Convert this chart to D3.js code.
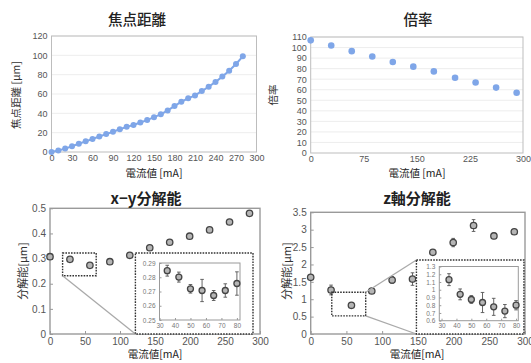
<!DOCTYPE html>
<html>
<head>
<meta charset="utf-8">
<script src="https://cdn.jsdelivr.net/npm/d3@7"></script>
<style>
  html, body { margin: 0; padding: 0; background: #fff; }
  svg { display: block; font-family: "Noto Sans CJK JP", "Noto Sans", sans-serif; }
</style>
</head>
<body>
<svg id="chart" width="531" height="363"></svg>
<script>
// ---- data ----
// 焦点距離 (top left)
const focusCurrent = [0, 10, 20, 30, 40, 50, 60, 70, 80, 90, 100, 110, 120, 130, 140,
  150, 160, 170, 180, 190, 200, 210, 220, 230, 240, 250, 260, 270, 280]
const focusLength = [0, 1.5, 3.5, 6, 8.5, 11, 13.5, 16, 18.5, 21, 23.5, 26, 28, 30.5, 33,
  36, 39, 43, 47.5, 52, 55.5, 58.5, 63, 67.5, 72.5, 78, 84, 91, 99]
const focusXTicks = [0, 30, 60, 90, 120, 150, 180, 210, 240, 270, 300]
const focusYTicks = [0, 20, 40, 60, 80, 100, 120]

// 倍率 (top right)
const magCurrent = [0, 29, 58, 87, 116, 145, 174, 204, 233, 262, 291]
const magValue = [106.8, 102, 96.6, 91.5, 86.3, 81.9, 77.4, 71.3, 66.8, 62, 57.2]
const magXTicks = [0, 75, 150, 225, 300]
const magYTicks = [0, 10, 20, 30, 40, 50, 60, 70, 80, 90, 100, 110]

// 分解能 shared current values
const resCurrent = [0, 28.5, 57, 85.5, 114, 142.5, 171, 199.5, 228, 256.5, 285]
const resXTicks = [0, 50, 100, 150, 200, 250, 300]
const insetCurrent = [35, 42.5, 50, 57.5, 65, 72.5, 80]
const insetXTicks = [30, 40, 50, 60, 70, 80]

// x-y分解能 (bottom left)
const xyValue = [0.3075, 0.297, 0.273, 0.2876, 0.313, 0.343, 0.365, 0.389, 0.414, 0.4455, 0.48]
const xyError = [0.003, 0.003, 0.003, 0.003, 0.004, 0.004, 0.004, 0.003, 0.005, 0.005, 0.01]
const xyYTicks = [0, 0.1, 0.2, 0.3, 0.4, 0.5]
const xyInsetValue = [0.2846, 0.2801, 0.2719, 0.2707, 0.2672, 0.2707, 0.2756]
const xyInsetError = [0.0038, 0.0035, 0.003, 0.0078, 0.0035, 0.0047, 0.0082]
const xyInsetYTicks = [0.25, 0.26, 0.27, 0.28, 0.29]

// z軸分解能 (bottom right)
const zValue = [1.63, 1.266, 0.825, 1.237, 1.553, 1.58, 2.35, 2.63, 3.12, 2.82, 2.94]
const zError = [0.03, 0.14, 0.07, 0.04, 0.1, 0.18, 0.03, 0.12, 0.17, 0.08, 0.06]
const zYTicks = [0, 0.5, 1, 1.5, 2, 2.5, 3, 3.5]
const zInsetValue = [1.13, 0.94, 0.874, 0.835, 0.779, 0.724, 0.8]
const zInsetError = [0.077, 0.07, 0.05, 0.13, 0.11, 0.085, 0.06]
const zInsetYTicks = [0.6, 0.7, 0.8, 0.9, 1, 1.1, 1.2, 1.3]

const svg = d3.select('#chart')
const blue = '#7fa6e8'

const fmtTrim = (d) => String(+d.toFixed(2))

// generic frame + axes for one panel
const drawPanel = (opts) => {
  const { x, y, xTicks, yTicks, frame, grid, tickSize, fontSize, fmtY, labelGap } = opts
  const g = svg.append('g')
  const [x0, x1] = x.range()
  const [y0, y1] = y.range()
  if (grid) {
    g.selectAll('.grid')
      .data(yTicks.slice(1))
      .join('line')
      .attr('x1', x0).attr('x2', x1)
      .attr('y1', (d) => y(d)).attr('y2', (d) => y(d))
      .attr('stroke', '#e8e8e8')
      .attr('stroke-width', 0.8)
  }
  g.append('rect')
    .attr('x', x0).attr('y', y1)
    .attr('width', x1 - x0).attr('height', y0 - y1)
    .attr('fill', 'none')
    .attr('stroke', frame.color)
    .attr('stroke-width', frame.width)

  const ax = g.append('g')
    .attr('transform', `translate(0,${y0})`)
    .call(d3.axisBottom(x).tickValues(xTicks).tickSize(tickSize).tickFormat(d3.format('d')))
  const ay = g.append('g')
    .attr('transform', `translate(${x0},0)`)
    .call(d3.axisLeft(y).tickValues(yTicks).tickSize(tickSize).tickFormat(fmtY || fmtTrim))
  ;[ax, ay].forEach((a) => {
    a.select('.domain').remove()
    a.selectAll('.tick line').attr('stroke', frame.color)
    a.selectAll('.tick text').attr('fill', '#555').attr('font-size', fontSize)
  })
  // inward ticks
  ax.selectAll('.tick line').attr('y2', -tickSize)
  ay.selectAll('.tick line').attr('x2', tickSize)
  ax.selectAll('.tick text').attr('y', labelGap)
  ay.selectAll('.tick text').attr('x', -4)
  return g
}

const title = (text, cx, cy, size, weight) => {
  svg.append('text')
    .attr('x', cx).attr('y', cy)
    .attr('text-anchor', 'middle')
    .attr('dominant-baseline', 'middle')
    .attr('font-size', size)
    .attr('font-weight', weight)
    .attr('fill', '#222')
    .text(text)
}

const yTitle = (text, cx, cy, size) => {
  svg.append('text')
    .attr('transform', `translate(${cx},${cy}) rotate(-90)`)
    .attr('text-anchor', 'middle')
    .attr('dominant-baseline', 'middle')
    .attr('font-size', size)
    .attr('fill', '#333')
    .text(text)
}

const errorPoints = (g, x, y, xs, vs, es, r) => {
  const pts = g.append('g')
  xs.forEach((xv, i) => {
    const px = x(xv)
    const top = y(vs[i] + es[i])
    const bot = y(vs[i] - es[i])
    pts.append('line')
      .attr('x1', px).attr('x2', px).attr('y1', top).attr('y2', bot)
      .attr('stroke', '#555').attr('stroke-width', 0.9)
    ;[top, bot].forEach((cy) => {
      pts.append('line')
        .attr('x1', px - 1.8).attr('x2', px + 1.8).attr('y1', cy).attr('y2', cy)
        .attr('stroke', '#555').attr('stroke-width', 0.9)
    })
    pts.append('circle')
      .attr('cx', px).attr('cy', y(vs[i])).attr('r', r)
      .attr('fill', '#b5b5b5')
      .attr('stroke', '#444')
      .attr('stroke-width', 1.3)
  })
}

const dashedBox = (x0, y0, x1, y1) => {
  svg.append('rect')
    .attr('x', Math.min(x0, x1)).attr('y', Math.min(y0, y1))
    .attr('width', Math.abs(x1 - x0)).attr('height', Math.abs(y1 - y0))
    .attr('fill', 'none')
    .attr('stroke', '#333')
    .attr('stroke-width', 1.4)
    .attr('stroke-dasharray', '1.6,1.2')
}

const connector = (x0, y0, x1, y1) => {
  svg.append('line')
    .attr('x1', x0).attr('y1', y0).attr('x2', x1).attr('y2', y1)
    .attr('stroke', '#aaa').attr('stroke-width', 1.3)
}

// ---------- 焦点距離 ----------
{
  const x = d3.scaleLinear().domain([0, 300]).range([51.5, 256.5])
  const y = d3.scaleLinear().domain([0, 120]).range([152, 36])
  drawPanel({ x, y, xTicks: focusXTicks, yTicks: focusYTicks, grid: true, labelGap: 3,
    frame: { color: '#bdbdbd', width: 1 }, tickSize: 0, fontSize: 9, fmtY: d3.format('d') })
  const line = d3.line().x((d, i) => x(focusCurrent[i])).y((d) => y(d))
  svg.append('path')
    .datum(focusLength)
    .attr('fill', 'none')
    .attr('stroke', blue)
    .attr('stroke-width', 2)
    .attr('d', line)
  svg.append('g').selectAll('circle')
    .data(focusLength)
    .join('circle')
    .attr('cx', (d, i) => x(focusCurrent[i]))
    .attr('cy', (d) => y(d))
    .attr('r', 3)
    .attr('fill', blue)
  title('焦点距離', 137, 21, 14.5, 500)
  yTitle('焦点距離 [μm]', 17, 95, 10.5)
  title('電流値 [mA]', 154, 174, 10.5, 400)
}

// ---------- 倍率 ----------
{
  const x = d3.scaleLinear().domain([0, 300]).range([310.7, 523])
  const y = d3.scaleLinear().domain([0, 110]).range([153, 37])
  drawPanel({ x, y, xTicks: magXTicks, yTicks: magYTicks, grid: true, labelGap: 3,
    frame: { color: '#bdbdbd', width: 1 }, tickSize: 0, fontSize: 9, fmtY: d3.format('d') })
  svg.append('g').selectAll('circle')
    .data(magValue)
    .join('circle')
    .attr('cx', (d, i) => x(magCurrent[i]))
    .attr('cy', (d) => y(d))
    .attr('r', 3.3)
    .attr('fill', blue)
  title('倍率', 418, 21, 14.5, 500)
  yTitle('倍率', 274, 95, 10.5)
  title('電流値 [mA]', 417, 174, 10.5, 400)
}

// ---------- x-y分解能 ----------
{
  const x = d3.scaleLinear().domain([0, 300]).range([50, 260])
  const y = d3.scaleLinear().domain([0, 0.5]).range([334, 208.3])
  const g = drawPanel({ x, y, xTicks: resXTicks, yTicks: xyYTicks, labelGap: 4,
    frame: { color: '#9a9a9a', width: 1.4 }, tickSize: 3, fontSize: 10 })
  errorPoints(g, x, y, resCurrent, xyValue, xyError, 3.2)

  // zoom box, connector, inset box
  dashedBox(x(18), y(0.322), x(66), y(0.232))
  connector(x(18), y(0.232), x(122), y(0))
  svg.append('rect')
    .attr('x', x(122)).attr('y', y(0.322))
    .attr('width', x(290) - x(122)).attr('height', y(0) - y(0.322))
    .attr('fill', '#fff')
  dashedBox(x(122), y(0.322), x(290), y(0))

  const ix = d3.scaleLinear().domain([30, 82]).range([159.5, 240])
  const iy = d3.scaleLinear().domain([0.25, 0.29]).range([320, 263])
  const ig = drawPanel({ x: ix, y: iy, xTicks: insetXTicks, yTicks: xyInsetYTicks, labelGap: 3,
    frame: { color: '#9a9a9a', width: 1 }, tickSize: 2, fontSize: 6.5, fmtY: d3.format('.2f') })
  ig.selectAll('.tick text').attr('fill', '#777')
  errorPoints(ig, ix, iy, insetCurrent, xyInsetValue, xyInsetError, 3)

  title('x−y分解能', 146, 200, 15, 700)
  yTitle('分解能[μm]', 24, 271, 11)
  title('電流値[mA]', 155, 355.5, 10.5, 400)
}

// ---------- z軸分解能 ----------
{
  const x = d3.scaleLinear().domain([0, 300]).range([310.7, 525])
  const y = d3.scaleLinear().domain([0, 3.5]).range([334, 212.3])
  const g = drawPanel({ x, y, xTicks: resXTicks, yTicks: zYTicks, labelGap: 4,
    frame: { color: '#9a9a9a', width: 1.4 }, tickSize: 3, fontSize: 10 })
  errorPoints(g, x, y, resCurrent, zValue, zError, 3.2)

  dashedBox(x(29.5), y(1.2), x(77), y(0.52))
  connector(x(77), y(1.2), x(148), y(2.13))
  connector(x(77), y(0.52), x(148), y(0))
  svg.append('rect')
    .attr('x', x(148)).attr('y', y(2.13))
    .attr('width', x(298.5) - x(148)).attr('height', y(0) - y(2.13))
    .attr('fill', '#fff')
  dashedBox(x(148), y(2.13), x(298.5), y(0))

  const ix = d3.scaleLinear().domain([28.5, 81.5]).range([439.3, 518.3])
  const iy = d3.scaleLinear().domain([0.6, 1.3]).range([320.7, 266.5])
  const ig = drawPanel({ x: ix, y: iy, xTicks: insetXTicks, yTicks: zInsetYTicks, labelGap: 3,
    frame: { color: '#9a9a9a', width: 1 }, tickSize: 2, fontSize: 6.5 })
  ig.selectAll('.tick text').attr('fill', '#777')
  errorPoints(ig, ix, iy, insetCurrent, zInsetValue, zInsetError, 3)

  title('z軸分解能', 417, 200, 15, 700)
  yTitle('分解能[μm]', 288, 271, 11)
  title('電流値[mA]', 417, 355.5, 10.5, 400)
}
</script>
</body>
</html>
